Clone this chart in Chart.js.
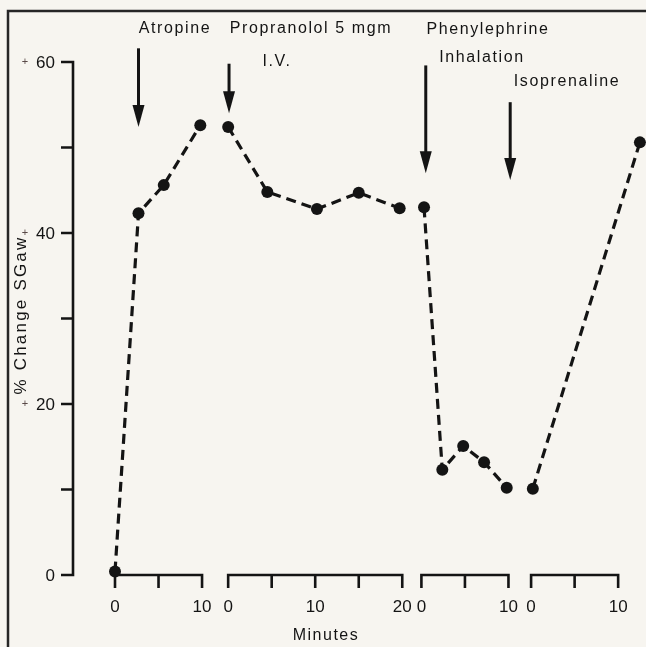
<!DOCTYPE html>
<html>
<head>
<meta charset="utf-8">
<script src="https://cdn.jsdelivr.net/npm/chart.js@4.4.1/dist/chart.umd.min.js"></script>
<style>
  html, body { margin: 0; padding: 0; background: #f7f5f0; }
  canvas { display: block; }
</style>
</head>
<body>
<canvas id="sgaw-chart" width="646" height="647"></canvas>
<script>
(function () {
    // minutes into each period and % change in SGaw
    const atropineMinutes = [0, 2.7, 5.6, 9.8];
    const atropineChange = [0.4, 42.3, 45.6, 52.6];
    const propranololMinutes = [0, 4.5, 10.2, 15, 19.7];
    const propranololChange = [52.4, 44.8, 42.8, 44.7, 42.9];
    const phenylephrineMinutes = [0.3, 2.4, 4.8, 7.2, 9.8];
    const phenylephrineChange = [43.0, 12.3, 15.1, 13.2, 10.2];
    const isoprenalineMinutes = [0.2, 12.5];
    const isoprenalineChange = [10.1, 50.6];

    // x axis: one short axis per period
    const periodLengths = [10, 20, 10, 10];
    const xTickStep = 5;
    const xLabelStep = 10;

    // y axis
    const yTicks = [0, 10, 20, 30, 40, 50, 60];
    const yTickLabels = ['0', '', '20', '', '40', '', '60'];
    const yPlusTicks = [20, 40, 60];

    // drug arrows: period, minute, top and tip of the arrow in % units
    const arrowPeriods = [0, 1, 2, 2];
    const arrowMinutes = [2.7, 0.1, 0.5, 10.2];
    const arrowTops = [61.6, 59.8, 59.6, 55.3];
    const arrowTips = [52.4, 54.0, 47.0, 46.2];

    // where each period starts along the shared x scale (gaps between axes)
    const periodOffsets = [0, 13, 35.2, 47.8];

    const notes = [
        { text: 'Atropine', x: 175, y: 29 },
        { text: 'Propranolol 5 mgm', x: 311, y: 29 },
        { text: 'I.V.', x: 277, y: 62 },
        { text: 'Phenylephrine', x: 488, y: 30 },
        { text: 'Inhalation', x: 482, y: 58 },
        { text: 'Isoprenaline', x: 567, y: 82 }
    ];

    const ink = '#141414';
    const font = '"Liberation Sans", Arial, sans-serif';

    function points(period, minutes, values) {
        return minutes.map(function (m, i) {
            return { x: periodOffsets[period] + m, y: values[i] };
        });
    }

    function lineSet(label, data) {
        return {
            label: label,
            data: data,
            showLine: true,
            borderColor: ink,
            borderWidth: 3.2,
            borderDash: [10, 6],
            pointRadius: 6,
            pointBackgroundColor: ink,
            pointBorderWidth: 0,
            tension: 0,
            clip: false
        };
    }

    const decor = {
        id: 'decor',
        beforeDraw: function (chart) {
            const ctx = chart.ctx;
            ctx.save();
            ctx.fillStyle = '#f7f5f0';
            ctx.fillRect(0, 0, chart.width, chart.height);
            ctx.strokeStyle = '#262626';
            ctx.lineWidth = 2.5;
            ctx.beginPath();
            ctx.moveTo(8, chart.height);
            ctx.lineTo(8, 11);
            ctx.lineTo(chart.width, 11);
            ctx.stroke();
            ctx.restore();
        },
        beforeDatasetsDraw: function (chart) {
            const ctx = chart.ctx;
            const xs = chart.scales.x;
            const ys = chart.scales.y;
            const y0 = ys.getPixelForValue(0);
            const axisX = 73;
            ctx.save();
            ctx.strokeStyle = ink;
            ctx.fillStyle = ink;
            ctx.lineWidth = 2.6;
            ctx.lineCap = 'butt';
            ctx.lineJoin = 'miter';

            // y axis
            ctx.beginPath();
            ctx.moveTo(axisX - 12, ys.getPixelForValue(60));
            ctx.lineTo(axisX, ys.getPixelForValue(60));
            ctx.lineTo(axisX, y0);
            ctx.lineTo(axisX - 12, y0);
            yTicks.forEach(function (v) {
                const py = ys.getPixelForValue(v);
                ctx.moveTo(axisX - 12, py);
                ctx.lineTo(axisX, py);
            });
            ctx.stroke();

            ctx.font = '17px ' + font;
            ctx.textAlign = 'right';
            ctx.textBaseline = 'middle';
            yTicks.forEach(function (v, i) {
                if (yTickLabels[i]) {
                    ctx.fillText(yTickLabels[i], 55, ys.getPixelForValue(v) + 1);
                }
            });
            ctx.font = '300 11px ' + font;
            ctx.textAlign = 'center';
            ctx.fillStyle = '#5a4a48';
            yPlusTicks.forEach(function (v) {
                ctx.fillText('+', 25, ys.getPixelForValue(v));
            });
            ctx.fillStyle = ink;

            // one x axis per period
            periodLengths.forEach(function (len, p) {
                const left = xs.getPixelForValue(periodOffsets[p]);
                const right = xs.getPixelForValue(periodOffsets[p] + len);
                ctx.beginPath();
                ctx.moveTo(left, y0 + 13);
                ctx.lineTo(left, y0);
                ctx.lineTo(right, y0);
                ctx.lineTo(right, y0 + 13);
                for (let m = xTickStep; m < len; m += xTickStep) {
                    const px = xs.getPixelForValue(periodOffsets[p] + m);
                    ctx.moveTo(px, y0);
                    ctx.lineTo(px, y0 + 13);
                }
                ctx.stroke();

                ctx.font = '17px ' + font;
                ctx.textAlign = 'center';
                ctx.textBaseline = 'middle';
                for (let m = 0; m <= len; m += xLabelStep) {
                    const px = xs.getPixelForValue(periodOffsets[p] + m);
                    ctx.fillText(String(m), px, y0 + 32);
                }
            });

            ctx.letterSpacing = '1.5px';
            ctx.font = '16px ' + font;
            ctx.fillText('Minutes', 326, 636);

            ctx.save();
            ctx.translate(21, 315);
            ctx.rotate(-Math.PI / 2);
            ctx.letterSpacing = '2.2px';
            ctx.font = '17px ' + font;
            ctx.fillText('% Change SGaw', 0, 0);
            ctx.restore();
            ctx.restore();
        },
        afterDatasetsDraw: function (chart) {
            const ctx = chart.ctx;
            const xs = chart.scales.x;
            const ys = chart.scales.y;
            ctx.save();
            ctx.strokeStyle = ink;
            ctx.fillStyle = ink;
            ctx.lineWidth = 3;
            arrowPeriods.forEach(function (p, i) {
                const px = xs.getPixelForValue(periodOffsets[p] + arrowMinutes[i]);
                const top = ys.getPixelForValue(arrowTops[i]);
                const tip = ys.getPixelForValue(arrowTips[i]);
                ctx.beginPath();
                ctx.moveTo(px, top);
                ctx.lineTo(px, tip - 18);
                ctx.stroke();
                ctx.beginPath();
                ctx.moveTo(px - 6, tip - 22);
                ctx.lineTo(px + 6, tip - 22);
                ctx.lineTo(px, tip);
                ctx.closePath();
                ctx.fill();
            });

            ctx.font = '16px ' + font;
            ctx.letterSpacing = '1.6px';
            ctx.textAlign = 'center';
            ctx.textBaseline = 'middle';
            notes.forEach(function (n) {
                ctx.fillText(n.text, n.x, n.y);
            });
            ctx.restore();
        }
    };

    new Chart(document.getElementById('sgaw-chart'), {
        type: 'scatter',
        data: {
            datasets: [
                lineSet('Atropine', points(0, atropineMinutes, atropineChange)),
                lineSet('Propranolol', points(1, propranololMinutes, propranololChange)),
                lineSet('Phenylephrine', points(2, phenylephrineMinutes, phenylephrineChange)),
                lineSet('Isoprenaline', points(3, isoprenalineMinutes, isoprenalineChange))
            ]
        },
        options: {
            responsive: false,
            animation: false,
            layout: {
                autoPadding: false,
                padding: { left: 115, right: 0, top: 62, bottom: 72 }
            },
            plugins: {
                legend: { display: false },
                tooltip: { enabled: false }
            },
            scales: {
                x: { type: 'linear', display: false, min: 0, max: 61 },
                y: { type: 'linear', display: false, min: 0, max: 60 }
            }
        },
        plugins: [decor]
    });
})();
</script>
</body>
</html>
